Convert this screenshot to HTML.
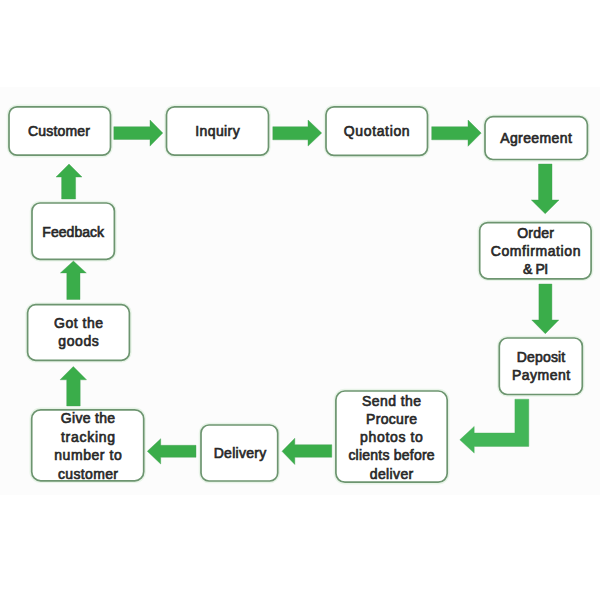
<!DOCTYPE html>
<html><head><meta charset="utf-8">
<style>
html,body{margin:0;padding:0;background:#ffffff;}
body{width:600px;height:600px;overflow:hidden;position:relative;}
svg{position:absolute;left:0;top:0;}
.b{fill:#ffffff;stroke:#6d9570;stroke-width:1.7;}
.h{fill:none;stroke:#e8f4e8;stroke-width:4.5;}
.a{fill:#3aad4a;stroke:#45a050;stroke-width:0.4;stroke-linejoin:miter;}
.a2{fill:#43b658;stroke:#4aab58;}
text{font-family:"Liberation Sans",sans-serif;font-weight:normal;font-size:14px;fill:#282828;stroke:#282828;stroke-width:0.65;text-anchor:middle;}
</style></head>
<body>
<svg width="600" height="600" viewBox="0 0 600 600">
<rect x="0" y="87" width="600" height="408" fill="#fcfcfc"/>
<!-- boxes -->
<rect class="h" x="9" y="106.8" width="101.5" height="48.4" rx="8"/>
<rect class="h" x="166.5" y="106.8" width="102" height="48.4" rx="8"/>
<rect class="h" x="326" y="106.8" width="101.5" height="48.6" rx="8"/>
<rect class="h" x="485" y="116.7" width="102.4" height="42.8" rx="8"/>
<rect class="h" x="479.7" y="222.6" width="111.4" height="56.2" rx="8"/>
<rect class="h" x="499.3" y="338" width="83" height="56.5" rx="8"/>
<rect class="h" x="335.9" y="391" width="111.3" height="91.2" rx="9"/>
<rect class="h" x="201" y="425" width="76.7" height="56" rx="8"/>
<rect class="h" x="31.7" y="409.8" width="112" height="71" rx="9"/>
<rect class="h" x="27.6" y="304.7" width="101.8" height="55.6" rx="8"/>
<rect class="h" x="32" y="203" width="82.4" height="56.3" rx="8"/>
<rect class="b" x="9" y="106.8" width="101.5" height="48.4" rx="8"/>
<rect class="b" x="166.5" y="106.8" width="102" height="48.4" rx="8"/>
<rect class="b" x="326" y="106.8" width="101.5" height="48.6" rx="8"/>
<rect class="b" x="485" y="116.7" width="102.4" height="42.8" rx="8"/>
<rect class="b" x="479.7" y="222.6" width="111.4" height="56.2" rx="8"/>
<rect class="b" x="499.3" y="338" width="83" height="56.5" rx="8"/>
<rect class="b" x="335.9" y="391" width="111.3" height="91.2" rx="9"/>
<rect class="b" x="201" y="425" width="76.7" height="56" rx="8"/>
<rect class="b" x="31.7" y="409.8" width="112" height="71" rx="9"/>
<rect class="b" x="27.6" y="304.7" width="101.8" height="55.6" rx="8"/>
<rect class="b" x="32" y="203" width="82.4" height="56.3" rx="8"/>
<!-- arrows right -->
<polygon class="a" points="113.8,126.7 150,126.7 150,120 162.8,133 150,146.1 150,139.5 113.8,139.5"/>
<polygon class="a" points="272.8,126.7 308,126.7 308,120 321.7,133 308,146.1 308,139.8 272.8,139.8"/>
<polygon class="a" points="431.7,126.7 468,126.7 468,120 481.2,133.1 468,146.3 468,139.8 431.7,139.8"/>
<!-- arrows down -->
<polygon class="a" points="538.5,164 552,164 552,200 559,200 545.2,213.7 531.3,200 538.5,200"/>
<polygon class="a" points="538.9,284 551.9,284 551.9,320 558.8,320 545.3,333.7 531.8,320 538.9,320"/>
<!-- L arrow -->
<polygon class="a a2" points="514.9,399.2 528.8,399.2 528.8,446.4 474.2,446.4 474.2,453.1 459.8,439.8 474.2,426.4 474.2,433 514.9,433"/>
<!-- arrows left -->
<polygon class="a" points="331.8,444.7 294.8,444.7 294.8,438.2 282,451.3 294.8,464.5 294.8,457.3 331.8,457.3"/>
<polygon class="a" points="196,445.3 160.7,445.3 160.7,438.7 147.3,451.3 160.7,464 160.7,457.3 196,457.3"/>
<!-- arrows up -->
<polygon class="a" points="66.7,406 80.2,406 80.2,379.8 86.5,379.8 73.3,366.5 60.1,379.8 66.7,379.8"/>
<polygon class="a" points="66.8,299.5 80,299.5 80,272.9 86.3,272.9 73.4,261 60.4,272.9 66.8,272.9"/>
<polygon class="a" points="61.6,199 75.6,199 75.6,177 82,177 69,164 56,177 61.6,177"/>
<!-- text -->
<text x="59" y="136.3" textLength="62.0" lengthAdjust="spacing">Customer</text>
<text x="217.5" y="136.3" textLength="44.3" lengthAdjust="spacing">Inquiry</text>
<text x="376.7" y="136.3" textLength="65.8" lengthAdjust="spacing">Quotation</text>
<text x="536" y="143.3" textLength="71.6" lengthAdjust="spacing">Agreement</text>
<text x="535.6" y="238.2" textLength="36.7" lengthAdjust="spacing">Order</text>
<text x="535.6" y="256.2" textLength="89.7" lengthAdjust="spacing">Comfirmation</text>
<text x="535.6" y="274" textLength="25.3" lengthAdjust="spacing">&amp; PI</text>
<text x="541" y="362.3" textLength="48.4" lengthAdjust="spacing">Deposit</text>
<text x="541" y="380" textLength="58.1" lengthAdjust="spacing">Payment</text>
<text x="391.5" y="405.7" textLength="59.0" lengthAdjust="spacing">Send the</text>
<text x="391.5" y="423.6" textLength="51.0" lengthAdjust="spacing">Procure</text>
<text x="391.5" y="441.8" textLength="62.8" lengthAdjust="spacing">photos to</text>
<text x="391.5" y="460" textLength="86.2" lengthAdjust="spacing">clients before</text>
<text x="391.5" y="478.8" textLength="43.4" lengthAdjust="spacing">deliver</text>
<text x="240" y="458" textLength="52.6" lengthAdjust="spacing">Delivery</text>
<text x="88" y="423" textLength="54.3" lengthAdjust="spacing">Give the</text>
<text x="88" y="441.5" textLength="54.0" lengthAdjust="spacing">tracking</text>
<text x="88" y="460" textLength="67.6" lengthAdjust="spacing">number to</text>
<text x="88" y="478.5" textLength="60.0" lengthAdjust="spacing">customer</text>
<text x="78.5" y="328" textLength="49.0" lengthAdjust="spacing">Got the</text>
<text x="78.5" y="345.6" textLength="40.5" lengthAdjust="spacing">goods</text>
<text x="73.2" y="236.8" textLength="61.7" lengthAdjust="spacing">Feedback</text>
</svg>
</body></html>
